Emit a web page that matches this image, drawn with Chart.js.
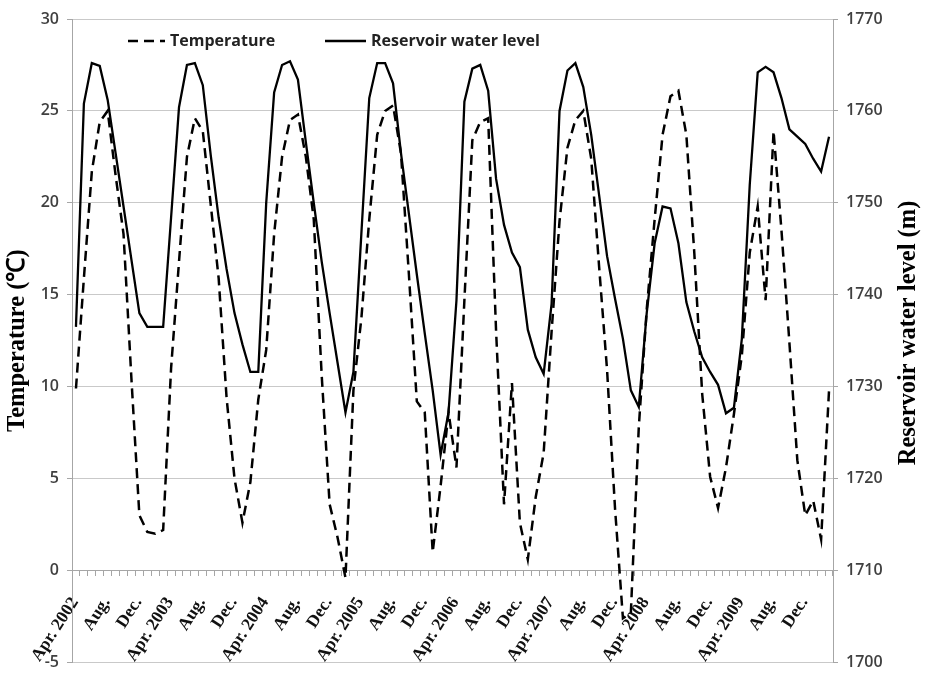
<!DOCTYPE html>
<html>
<head>
<meta charset="utf-8">
<script src="https://cdn.jsdelivr.net/npm/chart.js@4.4.0/dist/chart.umd.min.js"></script>
<style>
html,body{margin:0;padding:0;background:#fff;}
#wrap{width:929px;height:680px;position:relative;}
</style>
</head>
<body>
<div id="wrap"><canvas id="c" width="929" height="680"></canvas></div>
<script>
// Monthly categories, Apr 2002 - Mar 2010
const months = [
 '2002-04','2002-05','2002-06','2002-07','2002-08','2002-09','2002-10','2002-11','2002-12','2003-01','2003-02','2003-03',
 '2003-04','2003-05','2003-06','2003-07','2003-08','2003-09','2003-10','2003-11','2003-12','2004-01','2004-02','2004-03',
 '2004-04','2004-05','2004-06','2004-07','2004-08','2004-09','2004-10','2004-11','2004-12','2005-01','2005-02','2005-03',
 '2005-04','2005-05','2005-06','2005-07','2005-08','2005-09','2005-10','2005-11','2005-12','2006-01','2006-02','2006-03',
 '2006-04','2006-05','2006-06','2006-07','2006-08','2006-09','2006-10','2006-11','2006-12','2007-01','2007-02','2007-03',
 '2007-04','2007-05','2007-06','2007-07','2007-08','2007-09','2007-10','2007-11','2007-12','2008-01','2008-02','2008-03',
 '2008-04','2008-05','2008-06','2008-07','2008-08','2008-09','2008-10','2008-11','2008-12','2009-01','2009-02','2009-03',
 '2009-04','2009-05','2009-06','2009-07','2009-08','2009-09','2009-10','2009-11','2009-12','2010-01','2010-02','2010-03'
];

// Tick labels shown every 4th month
const tickLabels = [
 'Apr. 2002','Aug.','Dec.','Apr. 2003','Aug.','Dec.','Apr. 2004','Aug.','Dec.',
 'Apr. 2005','Aug.','Dec.','Apr. 2006','Aug.','Dec.','Apr. 2007','Aug.','Dec.',
 'Apr. 2008','Aug.','Dec.','Apr. 2009','Aug.','Dec.'
];

// Temperature (°C)
const temperature = [
 9.9, 15.9, 21.7, 24.4, 25.0, 21.5, 18.3, 10.4, 3.0, 2.1, 2.0, 2.2,
 11.0, 16.8, 22.5, 24.6, 23.9, 19.9, 15.9, 9.4, 5.0, 2.6, 4.8, 9.3,
 12.0, 18.3, 22.5, 24.5, 24.8, 22.5, 19.1, 10.6, 3.6, 1.8, -0.4, 9.8,
 13.7, 19.1, 23.7, 25.0, 25.3, 22.7, 16.1, 9.2, 8.6, 1.0, 4.6, 8.6,
 5.6, 14.7, 23.4, 24.4, 24.6, 13.0, 3.6, 10.2, 2.6, 0.6, 4.0, 6.4,
 13.0, 19.0, 23.0, 24.5, 25.0, 22.4, 16.5, 10.9, 3.4, -2.6, -2.3, 7.8,
 14.2, 19.1, 23.7, 25.8, 26.1, 23.7, 17.3, 9.6, 5.1, 3.4, 5.6, 8.5,
 11.7, 17.3, 19.8, 14.7, 23.9, 18.5, 12.4, 6.0, 3.0, 3.8, 1.7, 9.8
];

// Reservoir water level (m)
const waterLevel = [
 1736.5, 1760.8, 1765.2, 1764.9, 1761.2, 1755.4, 1749.6, 1743.8, 1738.0, 1736.5, 1736.5, 1736.5,
 1748.4, 1760.4, 1765.0, 1765.2, 1762.8, 1755.2, 1748.4, 1742.8, 1738.0, 1734.6, 1731.6, 1731.6,
 1750.0, 1762.0, 1765.0, 1765.4, 1763.4, 1756.6, 1750.0, 1743.6, 1738.0, 1732.6, 1727.2, 1731.6,
 1746.6, 1761.4, 1765.2, 1765.2, 1763.0, 1755.4, 1748.8, 1742.2, 1735.8, 1729.6, 1722.6, 1727.2,
 1739.4, 1761.0, 1764.6, 1765.0, 1762.2, 1752.6, 1747.6, 1744.6, 1743.0, 1736.2, 1733.2, 1731.4,
 1739.0, 1760.0, 1764.4, 1765.2, 1762.6, 1757.4, 1750.8, 1744.2, 1739.6, 1735.2, 1729.6, 1727.8,
 1738.0, 1745.6, 1749.6, 1749.4, 1745.6, 1739.2, 1736.0, 1733.2, 1731.6, 1730.2, 1727.1, 1727.7,
 1735.2, 1752.0, 1764.2, 1764.8, 1764.2, 1761.4, 1758.0, 1757.2, 1756.4, 1754.8, 1753.4, 1757.2
];

const seriesNames = ['Temperature', 'Reservoir water level'];
const leftTitle = 'Temperature (℃)';
const rightTitle = 'Reservoir water level (m)';

const AXIS = '#a6a6a6';
const GRID = '#c9c9c9';
const TICKFONT = { family: '"Open Sans", "Noto Sans", sans-serif', weight: '600', size: 16 };

const rightTitlePlugin = {
  id: 'rightTitle',
  afterDraw(chart) {
    const ctx = chart.ctx;
    ctx.save();
    ctx.font = 'bold 24.5px "Liberation Serif"';
    ctx.fillStyle = '#000';
    ctx.textAlign = 'center';
    ctx.textBaseline = 'middle';
    ctx.translate(909, 333);
    ctx.rotate(-Math.PI / 2);
    ctx.fillText(rightTitle, 0, 0);
    ctx.restore();
  }
};

const legendPlugin = {
  id: 'customLegend',
  afterDraw(chart) {
    const ctx = chart.ctx;
    const ds = chart.data.datasets;
    const y = 41;
    ctx.save();
    ctx.font = 'bold 16px "Open Sans", "Noto Sans", sans-serif';
    ctx.fillStyle = '#222';
    ctx.textBaseline = 'middle';
    ctx.textAlign = 'left';
    const items = [{x: 128, w: 37}, {x: 325, w: 41}];
    items.forEach((it, i) => {
      ctx.beginPath();
      ctx.strokeStyle = '#000';
      ctx.lineWidth = ds[i].borderWidth;
      ctx.setLineDash(ds[i].borderDash || []);
      ctx.moveTo(it.x, y);
      ctx.lineTo(it.x + it.w, y);
      ctx.stroke();
      ctx.setLineDash([]);
      ctx.fillText(ds[i].label, it.x + it.w + 5, y);
    });
    ctx.restore();
  }
};

new Chart(document.getElementById('c'), {
  type: 'line',
  data: {
    labels: months,
    datasets: [
      { label: seriesNames[0], data: temperature, yAxisID: 'y', borderColor: '#000', borderWidth: 2.5,
        borderDash: [10, 6], pointRadius: 0, tension: 0, fill: false },
      { label: seriesNames[1], data: waterLevel, yAxisID: 'y1', borderColor: '#000', borderWidth: 2.3,
        pointRadius: 0, tension: 0, fill: false }
    ]
  },
  options: {
    responsive: false,
    animation: false,
    devicePixelRatio: 1,
    layout: { padding: { top: 19, bottom: 10, left: 0, right: 0 } },
    plugins: { legend: { display: false }, tooltip: { enabled: false } },
    scales: {
      x: {
        type: 'category',
        offset: true,
        position: { y: 0 },
        grid: { display: true, drawOnChartArea: false, drawTicks: true, tickLength: 5, tickColor: AXIS, offset: true },
        border: { display: true, color: AXIS, width: 1 },
        ticks: {
          autoSkip: false, minRotation: 57, maxRotation: 57, padding: 18, labelOffset: -1,
          color: '#111', font: { family: '"Liberation Serif"', weight: 'bold', size: 17.5 },
          callback: (v, i) => (i % 4 === 0 ? tickLabels[i / 4] : '')
        }
      },
      y: {
        position: 'left', min: -5, max: 30,
        ticks: { stepSize: 5, padding: 8, color: '#404040', font: TICKFONT },
        grid: { color: GRID, tickLength: 5, tickColor: AXIS },
        border: { color: AXIS },
        title: { display: true, text: leftTitle, color: '#000',
                 font: { family: '"Liberation Serif"', weight: 'bold', size: 24.5 }, padding: { top: 3, bottom: 0 } },
        afterFit: s => { s.width = 72; }
      },
      y1: {
        position: 'right', min: 1700, max: 1770,
        ticks: { stepSize: 10, padding: 8, color: '#404040', font: TICKFONT, callback: v => String(v) },
        grid: { drawOnChartArea: false, tickLength: 5, tickColor: AXIS },
        border: { color: AXIS },
        afterFit: s => { s.width = 96; }
      }
    }
  },
  plugins: [rightTitlePlugin, legendPlugin]
});
</script>
</body>
</html>
